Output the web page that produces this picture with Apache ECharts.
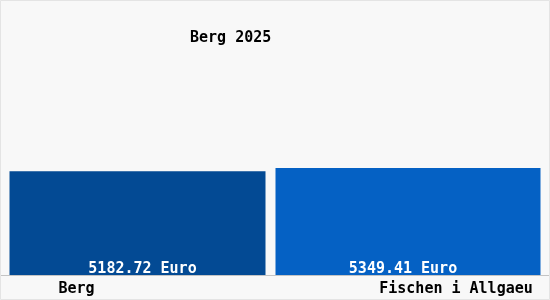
<!DOCTYPE html>
<html>
<head>
<meta charset="utf-8">
<script src="https://cdn.jsdelivr.net/npm/echarts@6/dist/echarts.min.js"></script>
<style>
html,body{margin:0;padding:0;background:#f8f8f8;}
#c{width:550px;height:300px;}
</style>
</head>
<body>
<div id="c"></div>
<script>
const title = "Berg 2025";
const categories = ["Berg", "Fischen i Allgaeu"];
const values = [5182.72, 5349.41];
const unit = "Euro";
const colors = ["#034a94", "#0561c4"];

const chart = echarts.init(document.getElementById('c'));
const font = "'DejaVu Sans Mono', monospace";
const weight = 'bold';
chart.setOption({
  backgroundColor: '#f8f8f8',
  animation: false,
  title: {
    text: title, left: 190, top: 31, padding: 0,
    textStyle: { fontFamily: font, fontSize: 15, fontWeight: weight, color: '#000' }
  },
  grid: { left: 9, right: 9, top: 0, bottom: 25 },
  xAxis: {
    type: 'category',
    data: [
      { value: categories[0], textStyle: { padding: [0, 131, 0, 0] } },
      { value: categories[1], textStyle: { padding: [0, 0, 0, 96] } }
    ],
    axisLine: { show: false },
    axisTick: { show: false },
    axisLabel: { margin: 7, fontFamily: font, fontSize: 15, fontWeight: weight, color: '#000', interval: 0 }
  },
  yAxis: { type: 'value', min: 0, max: 13750, show: false, splitLine: { show: false } },
  graphic: [{
    type: 'line', shape: { x1: 0, y1: 275.5, x2: 550, y2: 275.5 },
    style: { stroke: '#c4c4c4', lineWidth: 1 }, silent: true
  }, {
    type: 'rect', shape: { x: 0.5, y: 0.5, width: 549, height: 299 },
    style: { fill: 'none', stroke: '#e4e4e4', lineWidth: 1 }, silent: true
  }],
  series: [
    {
      type: 'bar', barWidth: 256, barGap: '-100%',
      data: [values[0], '-'],
      itemStyle: { color: colors[0] },
      label: { show: true, position: 'insideBottom', distance: 0, offset: [5, 2], fontFamily: font, fontSize: 15, fontWeight: weight, color: '#fff',
        formatter: p => p.value.toFixed(2) + ' ' + unit }
    },
    {
      type: 'bar', barWidth: 265, barGap: '-100%',
      data: ['-', values[1]],
      itemStyle: { color: colors[1] },
      label: { show: true, position: 'insideBottom', distance: 0, offset: [-5, 2], fontFamily: font, fontSize: 15, fontWeight: weight, color: '#fff',
        formatter: p => p.value.toFixed(2) + ' ' + unit }
    }
  ]
});
</script>
</body>
</html>
